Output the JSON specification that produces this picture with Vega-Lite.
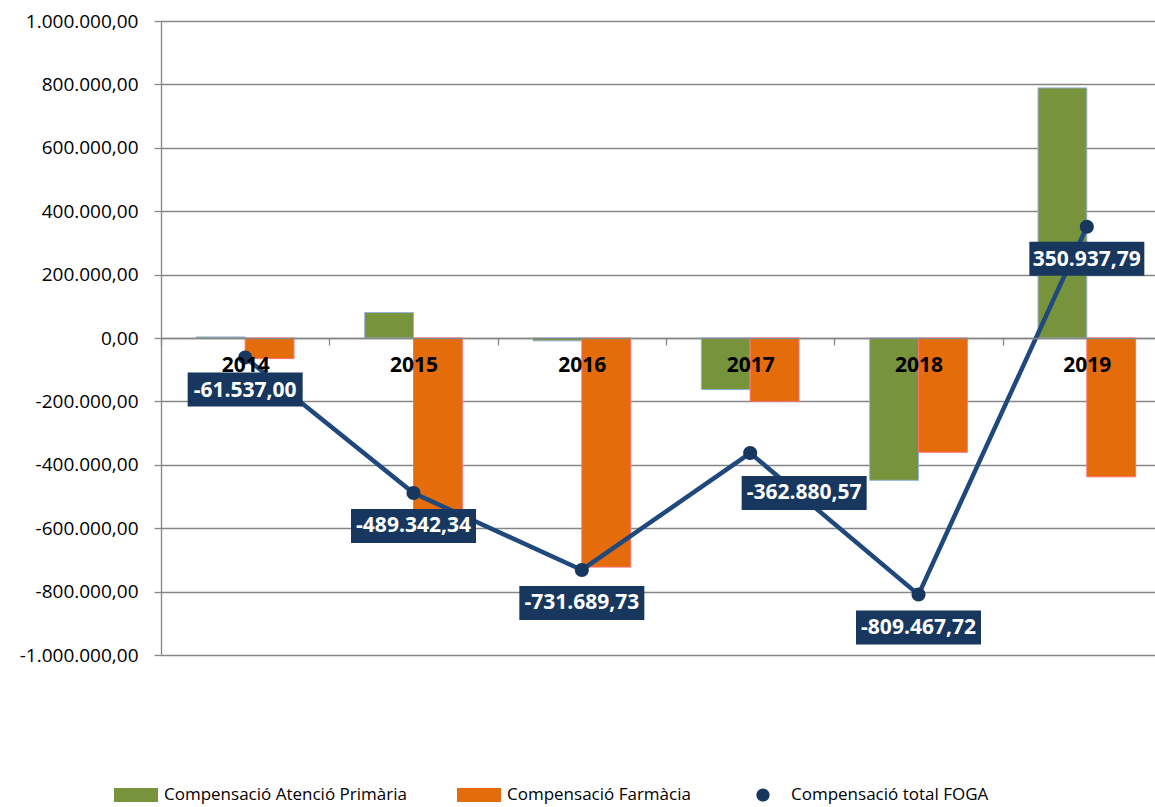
{
  "$schema": "https://vega.github.io/schema/vega-lite/v6.json",
  "width": 1010,
  "height": 634,
  "autosize": {"type": "none"},
  "padding": {"left": 161, "top": 21, "right": 0, "bottom": 152},
  "background": "white",
  "config": {
    "locale": {"number": {"decimal": ",", "thousands": ".", "grouping": [3], "currency": ["", " €"], "minus": "-"}},
    "view": {"stroke": null},
    "font": "Open Sans"
  },
  "data": {
    "values": [
      {"year": "2014", "serie": "Compensació Atenció Primària", "value": 3463},
      {"year": "2014", "serie": "Compensació Farmàcia", "value": -65000},
      {"year": "2014", "serie": "Compensació total FOGA", "value": -61537.00},
      {"year": "2015", "serie": "Compensació Atenció Primària", "value": 80200},
      {"year": "2015", "serie": "Compensació Farmàcia", "value": -569542.34},
      {"year": "2015", "serie": "Compensació total FOGA", "value": -489342.34},
      {"year": "2016", "serie": "Compensació Atenció Primària", "value": -9000},
      {"year": "2016", "serie": "Compensació Farmàcia", "value": -722689.73},
      {"year": "2016", "serie": "Compensació total FOGA", "value": -731689.73},
      {"year": "2017", "serie": "Compensació Atenció Primària", "value": -163000},
      {"year": "2017", "serie": "Compensació Farmàcia", "value": -199880.57},
      {"year": "2017", "serie": "Compensació total FOGA", "value": -362880.57},
      {"year": "2018", "serie": "Compensació Atenció Primària", "value": -449000},
      {"year": "2018", "serie": "Compensació Farmàcia", "value": -360467.72},
      {"year": "2018", "serie": "Compensació total FOGA", "value": -809467.72},
      {"year": "2019", "serie": "Compensació Atenció Primària", "value": 789000},
      {"year": "2019", "serie": "Compensació Farmàcia", "value": -438062.21},
      {"year": "2019", "serie": "Compensació total FOGA", "value": 350937.79}
    ]
  },
  "encoding": {
    "x": {
      "field": "year", "type": "nominal", "sort": "ascending",
      "scale": {"paddingInner": 0.42, "paddingOuter": 0.21},
      "axis": {
        "title": null, "orient": "bottom", "offset": -317, "labelAngle": 0,
        "labelFont": "Open Sans", "labelFontSize": 21, "labelFontWeight": "bold", "labelColor": "black",
        "tickOffset": -84.17, "labelOffset": 84.17, "tickSize": 7, "tickColor": "#868686", "tickWidth": 1.3,
        "domainColor": "#868686", "domainWidth": 1.3, "labelPadding": 9, "zindex": 1, "grid": false
      }
    },
    "y": {
      "field": "value", "type": "quantitative",
      "scale": {"domain": [-1000000, 1000000], "nice": false, "zero": false},
      "axis": {
        "title": null,
        "values": [-1000000, -800000, -600000, -400000, -200000, 0, 200000, 400000, 600000, 800000, 1000000],
        "format": ",.2f", "labelFont": "Open Sans", "labelFontSize": 19, "labelColor": "black",
        "tickSize": 7, "tickColor": "#868686", "tickWidth": 1.3,
        "domainColor": "#868686", "domainWidth": 1.3,
        "gridColor": "#868686", "gridWidth": 1.3, "labelPadding": 16
      }
    }
  },
  "layer": [
    {
      "transform": [{"filter": "datum.serie !== 'Compensació total FOGA'"}],
      "mark": {"type": "bar", "strokeWidth": 1},
      "encoding": {
        "xOffset": {"field": "serie", "type": "nominal", "scale": {"domain": ["Compensació Atenció Primària", "Compensació Farmàcia"]}},
        "color": {
          "field": "serie", "type": "nominal",
          "scale": {"domain": ["Compensació Atenció Primària", "Compensació Farmàcia", "Compensació total FOGA"], "range": ["#77933C", "#E46C0A", "#17375E"]},
          "legend": {
            "orient": "none", "legendX": -47, "legendY": 752, "direction": "horizontal", "columns": 3,
            "title": null, "symbolSize": 1936,
            "symbolStrokeWidth": 0, "symbolOpacity": 1,
            "labelFont": "Open Sans", "labelFontSize": 17, "labelColor": "black", "labelLimit": 0,
            "labelOffset": 6, "columnPadding": 50, "padding": 0
          }
        },
        "stroke": {
          "field": "serie", "type": "nominal",
          "scale": {"domain": ["Compensació Atenció Primària", "Compensació Farmàcia"], "range": ["#95B3D7", "#FF6F6F"]},
          "legend": null
        }
      }
    },
    {
      "transform": [{"filter": "datum.serie === 'Compensació total FOGA'"}],
      "mark": {"type": "line", "strokeWidth": 4.5, "color": "#1F497D"},
      "encoding": {}
    },
    {
      "transform": [{"filter": "datum.serie === 'Compensació total FOGA'"}],
      "mark": {"type": "point", "filled": true, "size": 2178, "color": "#17375E", "opacity": 1, "strokeWidth": 0},
      "encoding": {
        "shape": {
          "field": "serie", "type": "nominal",
          "scale": {
            "domain": ["Compensació Atenció Primària", "Compensació Farmàcia", "Compensació total FOGA"],
            "range": ["M-1,-0.32L1,-0.32L1,0.32L-1,0.32Z", "M-1,-0.32L1,-0.32L1,0.32L-1,0.32Z", "M-0.3,0A0.3,0.3 0 1,1 0.3,0A0.3,0.3 0 1,1 -0.3,0Z"]
          },
          "legend": {
            "orient": "none", "legendX": -47, "legendY": 752, "direction": "horizontal", "columns": 3,
            "title": null, "symbolSize": 1936,
            "symbolStrokeWidth": 0, "symbolOpacity": 1,
            "labelFont": "Open Sans", "labelFontSize": 17, "labelColor": "black", "labelLimit": 0,
            "labelOffset": 6, "columnPadding": 50, "padding": 0
          }
        }
      }
    },
    {
      "transform": [{"filter": "datum.serie === 'Compensació total FOGA' && (datum.year === '2014' || datum.year === '2019')"}],
      "mark": {"type": "point", "filled": true, "size": 13225, "color": "#17375E", "opacity": 1, "strokeWidth": 0, "shape": "M-1,0.261L1,0.261L1,0.852L-1,0.852Z"}
    },
    {
      "transform": [{"filter": "datum.serie === 'Compensació total FOGA' && (datum.year === '2015' || datum.year === '2016' || datum.year === '2018')"}],
      "mark": {"type": "point", "filled": true, "size": 15625, "color": "#17375E", "opacity": 1, "strokeWidth": 0, "shape": "M-1,0.256L1,0.256L1,0.800L-1,0.800Z"}
    },
    {
      "transform": [{"filter": "datum.serie === 'Compensació total FOGA' && datum.year === '2017'"}],
      "mark": {"type": "point", "filled": true, "size": 15625, "color": "#17375E", "opacity": 1, "strokeWidth": 0, "shape": "M-0.136,0.368L1.864,0.368L1.864,0.912L-0.136,0.912Z"}
    },
    {
      "transform": [{"filter": "datum.serie === 'Compensació total FOGA' && datum.year !== '2017'"}],
      "mark": {"type": "text", "dy": 33, "font": "Open Sans", "fontSize": 21, "fontWeight": "bold", "color": "white", "baseline": "middle", "align": "center"},
      "encoding": {"text": {"field": "value", "type": "quantitative", "format": ",.2f"}}
    },
    {
      "transform": [{"filter": "datum.serie === 'Compensació total FOGA' && datum.year === '2017'"}],
      "mark": {"type": "text", "dx": 54, "dy": 40, "font": "Open Sans", "fontSize": 21, "fontWeight": "bold", "color": "white", "baseline": "middle", "align": "center"},
      "encoding": {"text": {"field": "value", "type": "quantitative", "format": ",.2f"}}
    }
  ]
}
